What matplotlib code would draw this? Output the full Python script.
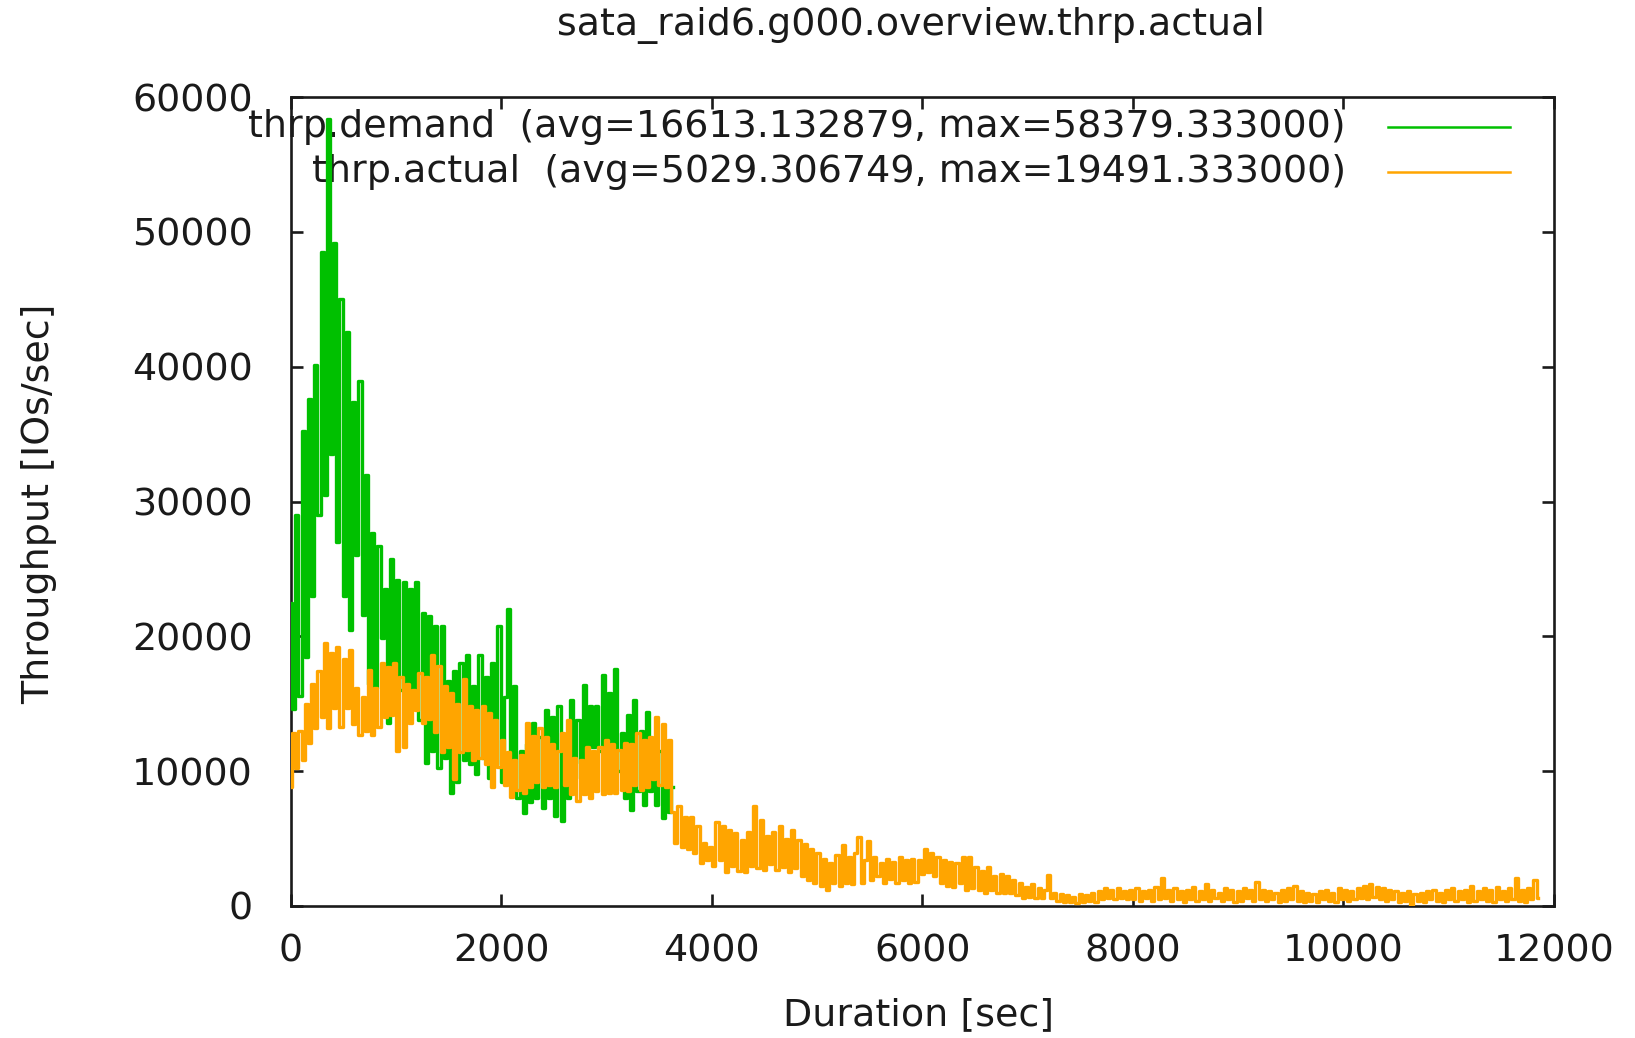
"""
plot.py
-------
gnuplot-style overview of the sata_raid6 run: demand vs. actual throughput.
Values were read off the original chart (in thousands of IOs/sec), one sample
every DT seconds.
"""
import numpy as np
import matplotlib
matplotlib.use("Agg")
import matplotlib.pyplot as plt

DT = 30                                # sample spacing [sec]
TITLE = "sata_raid6.g000.overview.thrp.actual"
XLABEL, YLABEL = "Duration [sec]", "Throughput [IOs/sec]"
XTICKS = [0, 2000, 4000, 6000, 8000, 10000, 12000]
YTICKS = [0, 10000, 20000, 30000, 40000, 50000, 60000]
LABELS = ["thrp.demand  (avg=16613.132879, max=58379.333000)",
          "thrp.actual  (avg=5029.306749, max=19491.333000)"]
GREEN, ORANGE, INK = "#00c000", "#ffa500", "#1a1a1a"

# thrp.demand, k IOs/sec, t = 0, 30, ... 3630
demand_k = [
    22.5, 14.6, 29.0, 15.6, 35.2, 18.5, 37.6, 23.0, 40.1, 29.0,
    48.5, 30.5, 58.4, 33.5, 49.2, 27.0, 45.0, 23.0, 42.6, 20.5,
    37.4, 26.0, 38.9, 21.6, 32.0, 16.5, 27.7, 16.2, 26.7, 19.9,
    23.5, 13.6, 25.7, 14.5, 24.2, 16.0, 24.0, 15.0, 23.5, 16.2,
    24.0, 13.8, 21.7, 10.6, 21.5, 11.5, 20.8, 10.2, 20.8, 11.0,
    16.7, 8.4, 17.4, 9.2, 18.0, 10.8, 18.6, 10.5, 16.3, 9.8,
    18.6, 11.0, 17.0, 9.5, 18.0, 10.5, 20.8, 9.2, 15.5, 22.0,
    9.0, 16.3, 8.0, 11.5, 6.9, 12.0, 7.7, 13.6, 8.0, 12.5,
    7.3, 14.5, 8.0, 14.0, 6.7, 14.8, 6.3, 12.5, 8.0, 15.3,
    10.6, 13.8, 9.5, 16.4, 11.0, 14.8, 11.8, 14.8, 11.5, 17.1,
    12.0, 15.8, 11.0, 17.6, 10.0, 12.8, 8.0, 14.2, 7.1, 15.3,
    8.5, 13.0, 7.5, 14.4, 8.5, 12.0, 7.5, 11.5, 6.5, 10.3,
    7.0, 8.8,
]

# thrp.actual, k IOs/sec, t = 0, 30, ... 11850
actual_k = [
    8.8, 12.8, 10.2, 13.0, 10.8, 15.0, 12.1, 16.5, 13.2, 17.4,
    14.0, 19.5, 13.2, 18.8, 14.7, 19.2, 13.3, 18.3, 14.7, 19.0,
    13.5, 16.2, 12.7, 15.5, 13.0, 17.5, 12.7, 16.2, 13.3, 18.0,
    14.0, 17.7, 14.2, 18.0, 11.5, 17.0, 11.8, 16.5, 13.6, 16.0,
    14.5, 17.3, 13.6, 17.0, 13.9, 18.6, 12.9, 17.8, 11.4, 16.3,
    11.8, 15.8, 9.4, 15.0, 11.4, 16.8, 11.6, 14.8, 10.8, 14.5,
    11.0, 14.8, 10.5, 14.3, 8.8, 13.8, 10.3, 12.3, 9.0, 11.4,
    8.1, 10.8, 8.6, 11.2, 8.4, 13.6, 8.8, 12.6, 9.2, 13.2,
    8.8, 12.5, 9.0, 12.0, 8.8, 11.5, 12.8, 9.0, 13.8, 8.3,
    11.0, 7.8, 10.8, 8.3, 11.8, 8.0, 11.5, 8.5, 11.8, 8.3,
    12.3, 8.4, 12.0, 8.4, 11.6, 8.6, 12.1, 8.5, 12.0, 9.0,
    12.8, 8.6, 12.3, 8.8, 12.5, 9.4, 14.0, 9.0, 13.5, 8.8,
    12.3, 7.0, 4.7, 7.4, 4.4, 6.6, 4.2, 6.6, 3.9, 5.9,
    3.2, 4.7, 3.4, 4.4, 3.0, 6.2, 3.4, 5.9, 2.5, 5.6,
    3.0, 5.4, 2.6, 4.9, 2.5, 5.5, 3.0, 7.4, 2.8, 6.4,
    2.7, 5.2, 3.1, 5.5, 2.7, 5.9, 2.9, 5.0, 2.5, 5.6,
    2.8, 4.9, 2.2, 4.6, 1.9, 4.2, 1.7, 3.9, 1.5, 3.5,
    1.2, 3.2, 1.7, 3.8, 1.5, 4.5, 1.7, 3.6, 1.6, 3.9,
    5.1, 1.7, 3.4, 4.8, 1.9, 3.6, 2.2, 3.2, 1.7, 3.5,
    2.0, 3.3, 1.7, 3.6, 1.9, 3.4, 1.7, 3.5, 1.8, 3.4,
    2.4, 4.2, 2.5, 3.9, 2.2, 3.6, 1.7, 3.4, 1.5, 3.3,
    1.4, 3.2, 1.7, 3.6, 1.2, 3.6, 1.3, 2.9, 1.2, 2.6,
    1.0, 2.9, 1.2, 2.2, 1.0, 2.4, 1.0, 2.2, 1.0, 1.9,
    0.8, 1.7, 0.6, 1.4, 0.7, 1.6, 0.6, 1.3, 0.6, 1.2,
    2.3, 0.6, 1.0, 0.4, 0.9, 0.3, 0.8, 0.3, 0.7, 0.2,
    0.9, 0.3, 0.8, 0.4, 1.0, 0.3, 1.1, 0.5, 1.3, 0.6,
    1.2, 0.5, 1.3, 0.6, 1.1, 0.5, 1.2,
    # 8010 ..
    0.5, 1.3, 0.4, 1.1, 0.6, 1.2, 0.4, 1.4, 0.5, 2.1,
    0.6, 1.2, 0.4, 1.3, 0.5, 1.1, 0.3, 1.2, 0.5, 1.4,
    0.4, 1.1, 0.5, 1.6, 0.4, 1.2, 0.6, 1.0, 0.4, 1.3,
    0.5, 1.2, 0.3, 1.1, 0.4, 1.3, 0.6, 1.2, 0.4, 1.8,
    0.5, 1.2, 0.4, 1.1, 0.5, 1.0, 0.3, 1.2, 0.4, 1.3,
    0.5, 1.5, 0.4, 1.1, 0.3, 1.0, 0.4, 0.9, 0.3, 1.1,
    0.5, 1.2, 0.4, 1.0, 0.3, 1.3, 0.5, 1.2, 0.4, 1.1,
    0.5, 1.3, 0.6, 1.5, 0.5, 1.6, 0.7, 1.4, 0.5, 1.3,
    0.4, 1.2, 0.5, 1.1, 0.3, 1.0, 0.4, 1.1, 0.1, 0.9,
    0.4, 1.0, 0.3, 1.1, 0.5, 1.2, 0.4, 1.0, 0.3, 1.2,
    0.5, 1.3, 0.4, 1.1, 0.5, 1.2, 0.3, 1.5, 0.4, 1.1,
    0.5, 1.3, 0.4, 1.2, 0.3, 1.4, 0.5, 1.1, 0.4, 1.3,
    0.5, 2.1, 0.4, 1.2, 0.3, 1.3, 0.5, 1.9, 0.6,
]

FS = 27.4                              # gnuplot font, ~38 px em
LW = 2.4


def main():
    demand = np.array(demand_k) * 1000
    actual = np.array(actual_k) * 1000
    t_dem = np.arange(len(demand)) * DT
    t_act = np.arange(len(actual)) * DT

    fig = plt.figure(figsize=(16.35, 10.38), dpi=100)
    fig.patch.set_facecolor("white")
    ax = fig.add_axes([290.5 / 1635, 132 / 1038, 1263.5 / 1635, 809 / 1038])

    # blocky, near-vertical strokes like the upscaled gnuplot png
    ax.plot(t_dem, demand, color=GREEN, lw=LW, drawstyle="steps-mid", zorder=3)
    ax.plot(t_act, actual, color=ORANGE, lw=LW, drawstyle="steps-mid", zorder=4)

    ax.set_xlim(0, 12000); ax.set_ylim(0, 60000)
    ax.set_xticks(XTICKS); ax.set_yticks(YTICKS)
    ax.tick_params(direction="in", length=8.6, width=1.9, color=INK,
                   top=True, right=True, labelsize=FS, labelcolor=INK)
    ax.tick_params(axis="y", pad=27)
    ax.tick_params(axis="x", pad=19.5)
    for s in ax.spines.values():
        s.set_linewidth(1.9); s.set_color(INK)

    # gnuplot key: right-aligned text, line sample to its right
    for lab, col, y in zip(LABELS, [GREEN, ORANGE], [0.9629, 0.9073]):
        ax.text(0.8353, y, lab, transform=ax.transAxes, ha="right", va="center",
                fontsize=FS, color=INK, zorder=2)
        ax.plot([0.8686, 0.9652], [y, y], transform=ax.transAxes, color=col,
                lw=1.8, clip_on=False, zorder=5)

    fig.text(911 / 1635, 1 - 26 / 1038, TITLE, ha="center", va="center",
             fontsize=FS, color=INK)
    fig.text(918 / 1635, 1 - 1015 / 1038, XLABEL, ha="center", va="center",
             fontsize=FS, color=INK)
    fig.text(39 / 1635, 1 - 504 / 1038, YLABEL, ha="center", va="center",
             rotation=90, fontsize=FS, color=INK)

    fig.savefig("out.png", dpi=100, facecolor="white")
    plt.close(fig)


if __name__ == "__main__":
    main()
